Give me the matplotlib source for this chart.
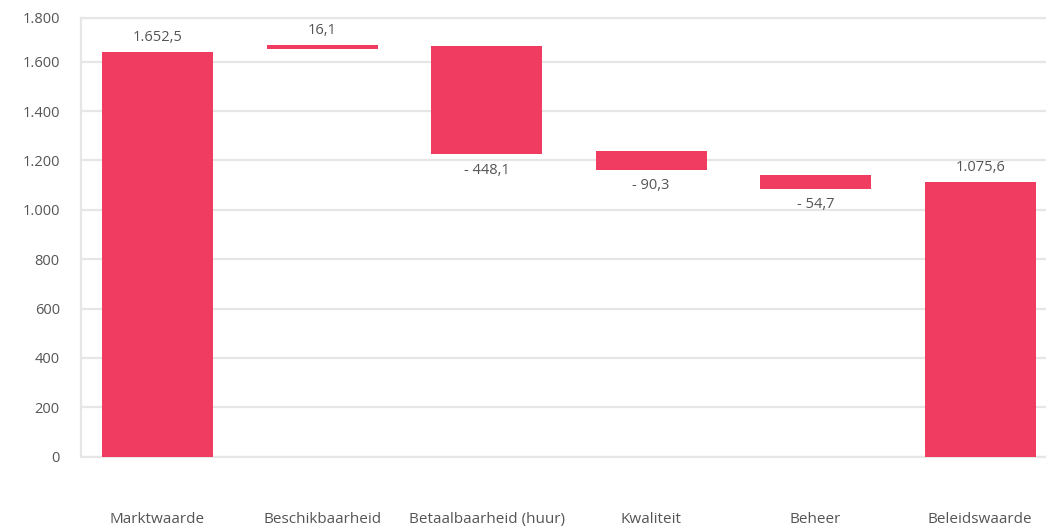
import matplotlib.pyplot as plt

categories = ['Marktwaarde', 'Beschikbaarheid', 'Betaalbaarheid (huur)',
              'Kwaliteit', 'Beheer', 'Beleidswaarde']
# values as printed on the chart
values = [1652.5, 16.1, -448.1, -90.3, -54.7, 1075.6]
# bar extents as drawn in the picture (the original isn't exactly to scale)
bar_low = [0, 1651, 1224, 1163, 1085, 0]
bar_high = [1639, 1666, 1662, 1240, 1139, 1113]
y_ticks = [0, 200, 400, 600, 800, 1000, 1200, 1400, 1600]

BAR = '#ef3c60'
GRID = '#e6e6e6'
TXT = '#555555'


def nl(v):
    s = f'{abs(v):,.1f}'.replace(',', 'X').replace('.', ',').replace('X', '.')
    return ('- ' if v < 0 else '') + s


plt.rcParams['font.family'] = ['Open Sans', 'DejaVu Sans']

fig = plt.figure(figsize=(10.46, 5.27), dpi=100)
ax = fig.add_axes([80.7 / 1046, (527 - 456.7) / 527, 1 - 80.7 / 1046, (456.7 - 17.7) / 527])

x = range(len(categories))
heights = [h - l for l, h in zip(bar_low, bar_high)]
ax.bar(x, heights, bottom=bar_low, width=0.675, color=BAR, zorder=3)

ymax = 1778
ax.set_ylim(0, ymax)
ax.set_xlim(-0.467, 5.40)
ax.set_yticks(y_ticks + [ymax])
ax.set_yticklabels([nl(t)[:-2] for t in y_ticks] + ['1.800'])
ax.grid(axis='y', color=GRID, linewidth=1.6, zorder=0)
ax.set_xticks(list(x))
ax.set_xticklabels(categories)

for s in ['left', 'top', 'bottom']:
    ax.spines[s].set_color(GRID)
    ax.spines[s].set_linewidth(1.6)
ax.spines['right'].set_visible(False)
ax.tick_params(axis='y', length=0, pad=15, labelsize=10.5, labelcolor=TXT)
ax.tick_params(axis='x', length=0, pad=40, labelsize=11, labelcolor=TXT)

for i, v in enumerate(values):
    if v >= 0:
        ax.annotate(nl(v), (i, bar_high[i]), xytext=(0, 5), textcoords='offset points',
                    ha='center', va='bottom', fontsize=10.5, color=TXT)
    else:
        ax.annotate(nl(v), (i, bar_low[i]), xytext=(0, -6), textcoords='offset points',
                    ha='center', va='top', fontsize=10.5, color=TXT)

fig.savefig('out.png', dpi=100)
